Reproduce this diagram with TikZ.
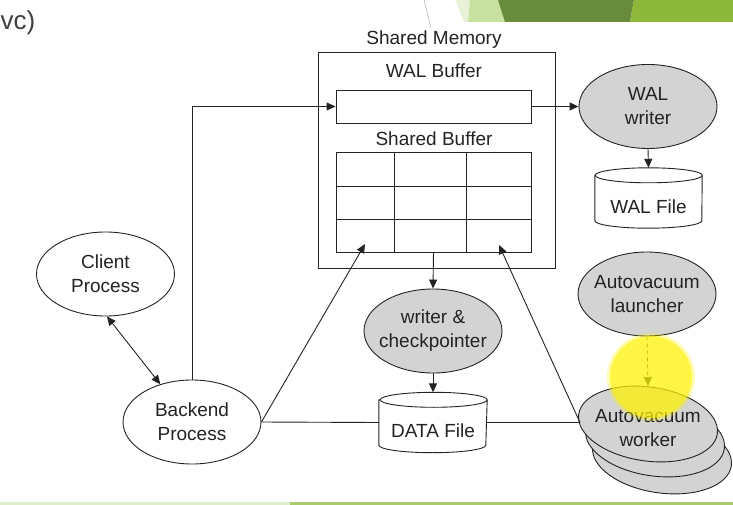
\documentclass[tikz,border=0pt]{standalone}
\usepackage{fontspec}
\setmainfont{Liberation Sans}
\usetikzlibrary{shapes.geometric,arrows.meta}
\definecolor{procgray}{RGB}{211,211,211}
\definecolor{ink}{RGB}{35,35,35}
\definecolor{greenA}{RGB}{200,224,160}
\definecolor{greenB}{RGB}{104,139,60}
\definecolor{greenC}{RGB}{142,184,58}
\definecolor{greenP}{RGB}{232,242,214}
\definecolor{titlegray}{RGB}{64,64,64}
\newcommand\drawcyl[1]{%
  \draw[line, fill=white] ([yshift=-7.5pt]#1.north west) -- ([yshift=7.5pt]#1.south west)
    arc[start angle=180,end angle=360,x radius=53.5pt,y radius=7.5pt]
    -- ([yshift=-7.5pt]#1.north east)
    arc[start angle=0,end angle=180,x radius=53.5pt,y radius=7.5pt] -- cycle;
  \draw[line] ([yshift=-7.5pt]#1.north east)
    arc[start angle=0,end angle=-180,x radius=53.5pt,y radius=7.5pt];}
\begin{document}
\begin{tikzpicture}[x=1pt,y=-1pt,
  font=\fontsize{19}{24}\selectfont,
  every node/.style={text=ink},
  line/.style={draw=ink, line width=0.9pt},
  arr/.style={line, -{Triangle[length=9pt,width=8pt]}},
  proc/.style={ellipse, draw=ink, line width=0.9pt, minimum width=138pt, minimum height=84pt, inner xsep=-18pt, inner ysep=0pt, align=center, fill=white},
  gproc/.style={proc, fill=procgray},
  wproc/.style={gproc, rotate=-8, minimum width=140pt, minimum height=74pt},
  txt/.style={inner sep=0pt, align=center},
  cylbox/.style={minimum width=107pt, minimum height=60pt, inner sep=0pt},
  boxnode/.style={draw=ink, line width=0.9pt, inner sep=0pt}
]
\useasboundingbox (0,0) rectangle (733,505);

% slide decorations
\fill[greenP] (455,0) -- (478,0) -- (471,22) -- (464,22) -- cycle;
\fill[greenA] (470,0) -- (500,0) -- (506,22) -- (468,22) -- cycle;
\fill[greenB] (498,0) -- (634,0) -- (630,22) -- (505,22) -- cycle;
\fill[greenC] (634,0) -- (733,0) -- (733,22) -- (630,22) -- cycle;
\draw[gray!55, line width=0.6pt] (424,0) -- (431,28);
\fill[greenA!55] (0,501.5) rectangle (290,505);
\fill[greenC!75] (290,501.5) rectangle (733,505);
\node[anchor=base west, inner sep=0pt, font=\fontsize{26}{30}\selectfont, text=titlegray] (title) at (0.5,30) {vc)};

% shared memory
\node[txt] (smlabel) at (434,39.5) {Shared Memory};
\node[boxnode, minimum width=237pt, minimum height=216pt] (shm) at (436.5,160) {};
\node[txt] (wallabel) at (434,70.5) {WAL Buffer};
\node[boxnode, minimum width=195pt, minimum height=33pt] (walbuf) at (433.5,106.5) {};
\node[txt] (sblabel) at (434,138.5) {Shared Buffer};
\node[boxnode, minimum width=195pt, minimum height=100pt] (sbuf) at (433.5,202) {};
\draw[line] (394,152) -- (394,252);
\draw[line] (466,152) -- (466,252);
\draw[line] (336,186) -- (531,186);
\draw[line] (336,219) -- (531,219);

% processes
\node[gproc] (walwriter) at (648,106.5) {WAL\\writer};
\node[proc] (client) at (105.5,274) {Client\\Process};
\node[proc] (backend) at (192,422) {Backend\\Process};
\node[gproc] (writer) at (433,331) {writer \&\\checkpointer};
\node[gproc] (launcher) at (647,294) {Autovacuum\\launcher};

\node[wproc] (worker3) at (662,456) {};
\node[wproc] (worker2) at (655,439) {};
\node[wproc] (worker) at (648,424) {};
\node[txt] (workertext) at (648,428) {Autovacuum\\worker};

% files
\node[cylbox] (walfile) at (648.5,198) {};
\node[cylbox, minimum width=108pt] (datafile) at (433,422.5) {};
\drawcyl{walfile}
\drawcyl{datafile}
\node[txt] (walfiletext) at (648.5,207) {WAL File};
\node[txt] (datafiletext) at (433,431) {DATA File};

% connectors
\coordinate (sbinleft) at (365,244);
\coordinate (sbinright) at (499,245);
\coordinate (workerwest) at (580,422.5);
\coordinate (workertop) at (648,386);

\draw[arr] (backend.north) |- (walbuf.west);
\draw[arr] (walbuf.east) -- (walwriter.west);
\draw[arr] (walwriter.south) -- (walfile.north);
\draw[line, {Triangle[length=9pt,width=8pt]}-{Triangle[length=9pt,width=8pt]}] (client.-88) -- (backend.130);
\draw[arr] (backend.east) -- (sbinleft);
\draw[line] (backend.east) -- (datafile.west);
\draw[line] (datafile.east) -- (workerwest);
\draw[arr] (workerwest) -- (sbinright);
\draw[arr] (sbuf.south) -- (writer.north);
\draw[arr] (writer.south) -- (datafile.north);
\draw[arr, line width=0.7pt, dash pattern=on 4pt off 3pt] (launcher.south) -- (workertop);

% pointer highlight
\fill[yellow, opacity=0.3] (651,377) circle[radius=44pt];
\fill[yellow, opacity=0.62] (651,377) circle[radius=41pt];
\end{tikzpicture}
\end{document}
